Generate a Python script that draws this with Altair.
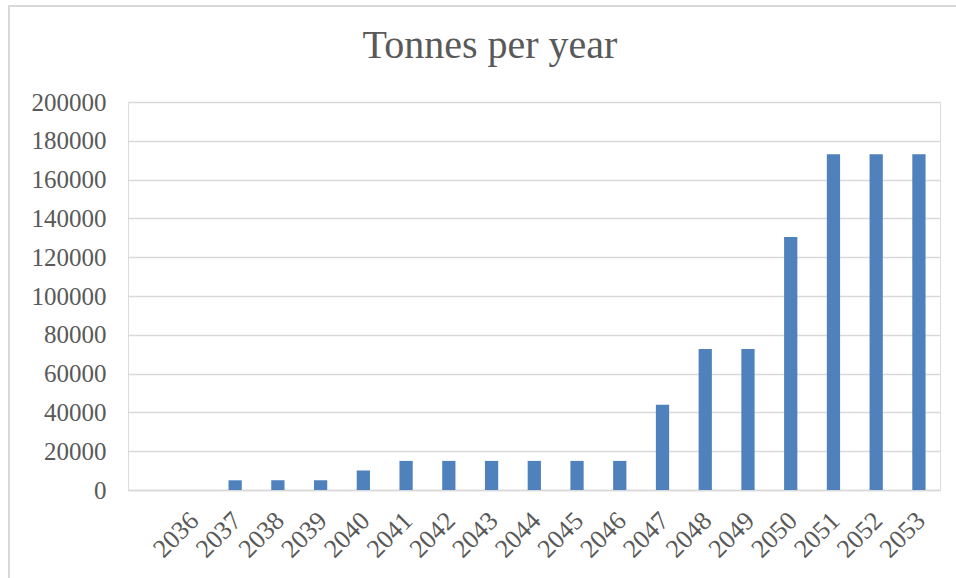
import altair as alt
import pandas as pd

# Annual tonnage, 2036-2053
years = [str(y) for y in range(2036, 2054)]
tonnes = [0, 5000, 5000, 5000, 10000, 15000, 15000, 15000, 15000, 15000, 15000,
          44000, 72700, 72700, 130400, 173100, 173100, 173100]
y_ticks = list(range(0, 200001, 20000))
chart_title = "Tonnes per year"

df = pd.DataFrame({"year": years, "tonnes": tonnes})

W, H = 812, 388
FONT = "Liberation Serif"
TEXT = "#595959"
GRID = "#d9d9d9"

bars = alt.Chart(df).mark_bar(color="#4f81bd").encode(
    x=alt.X(
        "year:N",
        sort=years,
        title=None,
        scale=alt.Scale(paddingInner=0.69, paddingOuter=0.845, align=0.8),
        axis=alt.Axis(
            labelAngle=315,
            labelFont=FONT,
            labelFontSize=26,
            labelColor=TEXT,
            labelPadding=17,
            labelOffset=-7,
            ticks=False,
            domainColor=GRID,
            domainWidth=1.5,
            grid=False,
        ),
    ),
    y=alt.Y(
        "tonnes:Q",
        title=None,
        scale=alt.Scale(domain=[0, 200000], nice=False),
        axis=alt.Axis(
            values=y_ticks,
            format="d",
            labelFont=FONT,
            labelFontSize=25,
            labelColor=TEXT,
            labelPadding=22,
            ticks=False,
            domain=False,
            gridColor=GRID,
            gridWidth=1.5,
        ),
    ),
)

# light outer frame around the whole chart
frame = alt.Chart(df).mark_rect(fill=None, stroke=GRID, strokeWidth=2).encode(
    x=alt.value(-119), x2=alt.value(W + 40),
    y=alt.value(-96), y2=alt.value(H + 120),
)

# chart heading, centred over the chart area
heading = alt.Chart(pd.DataFrame({"t": [chart_title]})).mark_text(
    font=FONT, fontSize=40, color=TEXT, align="center", baseline="alphabetic"
).encode(
    text="t:N",
    x=alt.value(362),
    y=alt.value(-44),
)

chart = alt.layer(frame, bars, heading).properties(
    width=W,
    height=H,
    autosize=alt.AutoSizeParams(type="none"),
    padding={"left": 128, "top": 102, "right": 16, "bottom": 88},
).configure_view(strokeWidth=0).configure(background="white")

chart.save("out.html", embed_options={"renderer": "svg", "actions": False})
